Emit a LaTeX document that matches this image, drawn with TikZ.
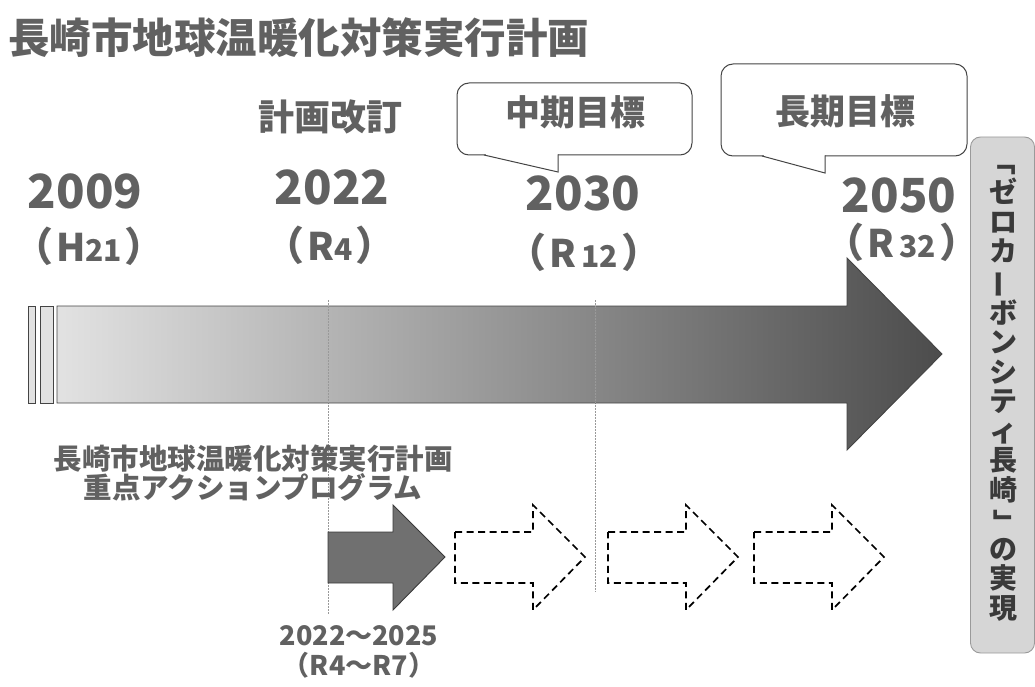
\documentclass[tikz,border=0pt]{standalone}
\usepackage{fontspec}
\setmainfont{Noto Sans CJK JP}
\usetikzlibrary{calc}
\definecolor{tgray}{HTML}{616161}
\definecolor{gdark}{HTML}{3A3A3A}
\definecolor{bcol}{HTML}{444444}
\definecolor{rfill}{HTML}{D6D6D6}
\definecolor{rbord}{HTML}{9A9A9A}
\definecolor{shl}{HTML}{E2E2E2}
\definecolor{shm}{HTML}{B0B0B0}
\definecolor{shr}{HTML}{4C4C4C}
\definecolor{darr}{HTML}{707070}
\newcommand\eraLab[2]{{\fontsize{40}{40}\selectfont （}\hspace{3pt}{\fontsize{38}{38}\selectfont #1}{\fontsize{30}{30}\selectfont #2}\hspace{3pt}{\fontsize{40}{40}\selectfont ）}}
\begin{document}
\begin{tikzpicture}[x=1pt,y=-1pt,
  txt/.style={text=tgray, inner sep=0pt},
  yearlab/.style={txt, font=\bfseries\fontsize{47}{47}\selectfont},
  eralab/.style={txt, font=\bfseries},
  callbox/.style={draw=bcol, line width=1pt, rounded corners=12pt, fill=white},
  calltxt/.style={txt, font=\bfseries\fontsize{35}{35}\selectfont},
  dotline/.style={draw=gray!80, line width=0.6pt, dash pattern=on 1.5pt off 1.5pt},
  dasharrow/.style={draw=black, line width=1.7pt, dash pattern=on 7pt off 4.5pt},
  bar/.style={draw=bcol, fill=shl, line width=0.9pt}]
\useasboundingbox (0,0) rectangle (1035,687);

% title
\node[txt, anchor=west, font=\bfseries\fontsize{41.5}{41.5}\selectfont] (title) at (8,38) {長崎市地球温暖化対策実行計画};

% right goal box
\node[draw=rbord, fill=rfill, line width=0.9pt, rounded corners=10pt, minimum width=64pt, minimum height=516pt, inner sep=0pt] (goal) at (1002.5,395) {};
\node[text=gdark, inner sep=0pt, align=center, font=\bfseries\fontsize{28}{29.5}\selectfont] (goaltxt) at (1003,384)
 {\rotatebox[origin=c]{-90}{「}\\ゼ\\ロ\\カ\\\rotatebox[origin=c]{90}{ー}\\ボ\\ン\\シ\\テ\\ィ\\長\\崎\\\rotatebox[origin=c]{-90}{」}\\の\\実\\現};

% dotted guide lines
\coordinate (g1t) at (328,300); \coordinate (g1b) at (328,615);
\coordinate (g2t) at (595,300); \coordinate (g2b) at (595,592);
\draw[dotline] (g1t) -- (g1b);
\draw[dotline] (g2t) -- (g2b);

% main arrow
\draw[bar] (28,306) rectangle (35,403);
\draw[bar] (40,306) rectangle (53,403);
\shade[left color=shl, middle color=shm, right color=shr] (57,306) -- (847,306) -- (847,258) -- (942,354) -- (847,450) -- (847,403) -- (57,403) -- cycle;
\draw[draw=bcol, line width=0.9pt] (57,306) -- (847,306) -- (847,258) -- (942,354) -- (847,450) -- (847,403) -- (57,403) -- cycle;
\draw[dotline] (g1t) -- (328,403);
\draw[dotline] (g2t) -- (595,403);

% years
\node[yearlab] (y2009) at (85,191) {2009};
\node[eralab] (h21) at (89,246) {\eraLab{H}{21}};
\node[calltxt, font=\bfseries\fontsize{36}{36}\selectfont] (rev) at (330,117) {計画改訂};
\node[yearlab] (y2022) at (332,187) {2022};
\node[eralab] (r4) at (330,245) {\eraLab{R}{4}};
\node[yearlab] (y2030) at (583,193) {2030};
\node[eralab] (r12) at (584,252) {\eraLab{R}{\,12}};
\node[yearlab] (y2050) at (899,195) {2050};
\node[eralab] (r32) at (902,242) {\eraLab{R}{\,32}};

% callouts
\node[callbox, minimum width=235pt, minimum height=72pt] (midbox) at (574.5,119) {};
\fill[white] (486,150) rectangle (557.5,157);
\draw[draw=bcol, line width=1pt, line join=miter] (484,155) -- (558,172) -- (558,154.5);
\node[calltxt] (mid) at (575,112) {中期目標};

\node[callbox, minimum width=246pt, minimum height=92pt] (longbox) at (844,110) {};
\fill[white] (764,151) rectangle (824.5,158);
\draw[draw=bcol, line width=1pt, line join=miter] (762,156) -- (825,173) -- (825,155.5);
\node[calltxt] (long) at (845,111) {長期目標};

% program label
\node[txt, align=center, font=\bfseries\fontsize{28.5}{29}\selectfont] (prog) at (253,473.5) {長崎市地球温暖化対策実行計画\\重点アクションプログラム};

% small arrows
\filldraw[fill=darr, draw=gdark, line width=0.9pt] (328,532) -- (393,532) -- (393,505) -- (445,557) -- (393,610) -- (393,583) -- (328,583) -- cycle;
\foreach \L in {455,608,754}{
  \draw[dasharrow] (\L,532) -- (\L+78,532) -- (\L+78,505) -- (\L+130,557) -- (\L+78,610) -- (\L+78,583) -- (\L,583) -- cycle;
}

\node[txt, align=center, font=\bfseries\fontsize{27}{30}\selectfont] (period) at (359,652) {2022～2025\\（R4～R7）};
\end{tikzpicture}
\end{document}
